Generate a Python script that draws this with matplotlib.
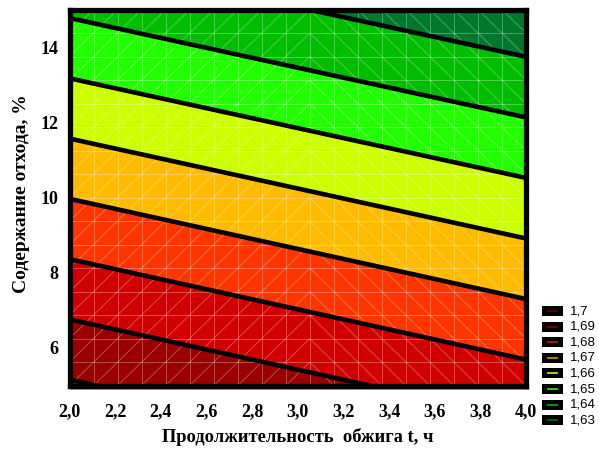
import numpy as np
import matplotlib
matplotlib.use("Agg")
import matplotlib.pyplot as plt
from matplotlib.patches import Rectangle
from matplotlib.lines import Line2D
from matplotlib.collections import LineCollection

# response surface, values at the corners of the plotted region
t_vals = [2.0, 4.0]           # продолжительность обжига, ч
w_vals = [5.0, 15.0]          # содержание отхода, %
z_vals = [[1.7010, 1.6843],   # w = 5
          [1.6386, 1.6222]]   # w = 15

levels = [1.63, 1.64, 1.65, 1.66, 1.67, 1.68, 1.69, 1.70]
fill_colors = ['#00782c', '#00bd00', '#22ff00', '#ccff00', '#ffbb00',
               '#ff3500', '#d00000', '#990000', '#6e0000']
legend_labels = ['1,7', '1,69', '1,68', '1,67', '1,66', '1,65', '1,64', '1,63']
legend_colors = ['#5a0000', '#800000', '#aa2000', '#c09000', '#c8d800',
                 '#30d800', '#00a800', '#006a10']

x_ticks = [2.0, 2.2, 2.4, 2.6, 2.8, 3.0, 3.2, 3.4, 3.6, 3.8, 4.0]
y_ticks = [6, 8, 10, 12, 14]

W, H = 599, 451
serif = 'Liberation Serif'


def fx(p):
    return p / W


def fy(p):
    return 1 - p / H


fig = plt.figure(figsize=(W / 100, H / 100), dpi=100)

# frame shadow
fig.patches.append(Rectangle((fx(71), fy(389.5)), fx(529) - fx(71), fy(11) - fy(389.5),
                             transform=fig.transFigure, facecolor='#a0a0a0',
                             edgecolor='none', zorder=-5))

left, right, top, bottom = 69.5, 526.0, 9.6, 385.6
ax = fig.add_axes([fx(left), fy(bottom), fx(right) - fx(left), fy(top) - fy(bottom)])
ax.set_zorder(1)

T, Wc = np.meshgrid(t_vals, w_vals)
Z = np.array(z_vals)
ax.contourf(T, Wc, Z, levels=[1.55] + levels + [1.75], colors=fill_colors, zorder=1)
ax.contour(T, Wc, Z, levels=levels, colors='black', linewidths=3.3, zorder=3)

# surface mesh (triangulated grid)
mx = np.linspace(2, 4, 20)
my = np.linspace(5, 15, 17)
segs = [[(x, 5), (x, 15)] for x in mx] + [[(2, y), (4, y)] for y in my]
for i in range(len(mx) - 1):
    for j in range(len(my) - 1):
        if i < 10:
            segs.append([(mx[i], my[j]), (mx[i + 1], my[j + 1])])
        else:
            segs.append([(mx[i], my[j + 1]), (mx[i + 1], my[j])])
ax.add_collection(LineCollection(segs, colors='white', linewidths=0.6, alpha=0.35, zorder=2))

ax.set_xlim(2, 4)
ax.set_ylim(5, 15)
ax.set_xticks(x_ticks)
ax.set_xticklabels([f"{v:.1f}".replace('.', ',') for v in x_ticks])
ax.set_yticks(y_ticks)
ax.set_yticklabels([str(v) for v in y_ticks])
ax.tick_params(length=0)
ax.tick_params(axis='x', pad=13)
ax.tick_params(axis='y', pad=8)
for lab in ax.get_xticklabels() + ax.get_yticklabels():
    lab.set_fontfamily(serif)
    lab.set_fontweight('bold')
    lab.set_fontsize(13)
for s in ax.spines.values():
    s.set_linewidth(3.8)
    s.set_color('black')
    s.set_zorder(5)

fig.text(fx(298), fy(437), 'Продолжительность  обжига t, ч', ha='center', va='center',
         fontsize=13.3, fontweight='bold', family=serif)
fig.text(fx(22), fy(194), 'Содержание отхода, %', ha='center', va='center',
         rotation=90, fontsize=14, fontweight='bold', family=serif)

# legend
for i, (lab, col) in enumerate(zip(legend_labels, legend_colors)):
    yc = 311 + i * 15.6
    fig.patches.append(Rectangle((fx(542), fy(yc + 5)), fx(21), 10 / H,
                                 transform=fig.transFigure, facecolor='black',
                                 edgecolor='none'))
    fig.lines.append(Line2D([fx(548), fx(557)], [fy(yc), fy(yc)],
                            transform=fig.transFigure, color=col, linewidth=1.3))
    fig.text(fx(570), fy(yc), lab, ha='left', va='center', fontsize=9.5,
             family='Liberation Sans')

fig.savefig('out.png', dpi=100)
